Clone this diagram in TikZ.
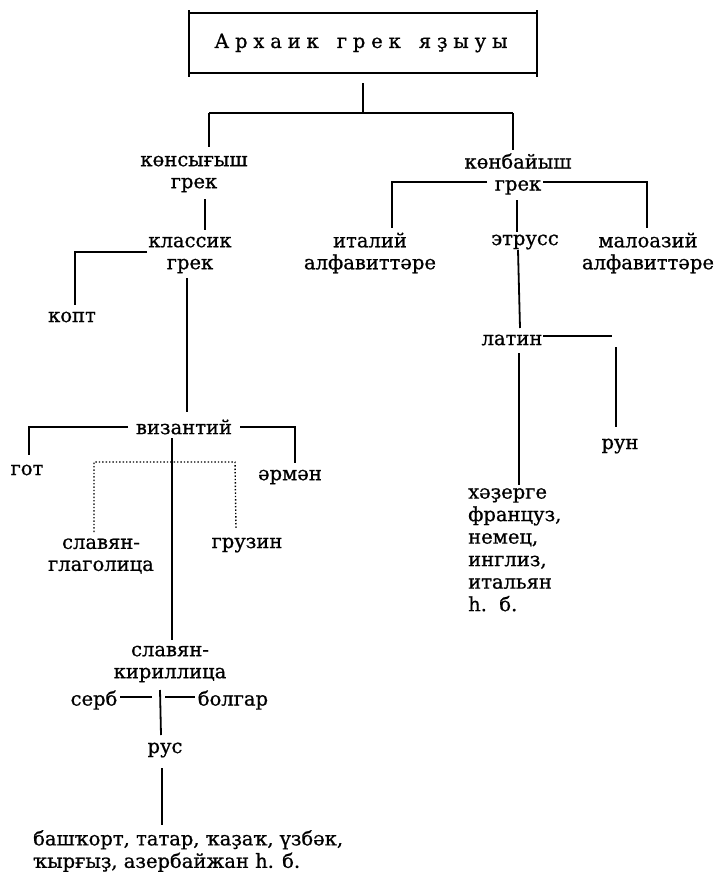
\documentclass[tikz,border=0pt]{standalone}
\usepackage{fontspec}
\setmainfont{DejaVu Serif}[FakeBold=0.8]
\begin{document}
\begin{tikzpicture}[x=1pt,y=-1pt,
  lbl/.style={inner sep=0pt, align=center, font=\fontsize{19.5}{22}\selectfont},
  lbll/.style={inner sep=0pt, align=left, font=\fontsize{19.5}{22.5}\selectfont},
  ln/.style={line width=1.8pt},
  dln/.style={line width=1.4pt, dotted}]
\useasboundingbox (0,0) rectangle (718,873);
% title box
\node[lbl, font=\fontsize{19.5}{22}\selectfont\addfontfeature{LetterSpace=30}] (title) at (361,43) {Архаик\hspace{6pt} грек\hspace{6pt} яҙыуы};
\draw[ln] (189,10) -- (189,77);
\draw[ln] (537,10) -- (537,77);
\draw[ln] (189,13) -- (537,13);
\draw[ln] (189,73) -- (537,73);
% nodes
\node[lbl] (east) at (194,174) {көнсығыш\\грек};
\node[lbl] (west) at (518,174) {көнбайыш\\грек};
\node[lbl] (classic) at (190,255) {классик\\грек};
\node[lbl] (kopt) at (72,317) {копт};
\node[lbl] (ital) at (370,253) {италий\\алфавиттәре};
\node[lbl] (etr) at (525,242) {этрусс};
\node[lbl] (maloaz) at (648,253) {малоазий\\алфавиттәре};
\node[lbl] (latin) at (512,340) {латин};
\node[lbl] (run) at (620,446) {рун};
\node[lbll, anchor=north west] (modern) at (468,488) {хәҙерге\\француз,\\немец,\\инглиз,\\итальян\\һ.\ \ б.};
\node[lbl] (byz) at (184,427) {византий};
\node[lbl] (got) at (27,470) {гот};
\node[lbl] (armen) at (290,477) {әрмән};
\node[lbl] (glag) at (101,556) {славян-\\глаголица};
\node[lbl] (georg) at (247,545) {грузин};
\node[lbl] (cyr) at (170,664) {славян-\\кириллица};
\node[lbl] (serb) at (94,700) {серб};
\node[lbl] (bolgar) at (233,700) {болгар};
\node[lbl] (rus) at (165,750) {рус};
\node[lbll, anchor=north west] (turk) at (33,830) {башҡорт, татар, ҡаҙаҡ, үзбәк,\\ҡырғыҙ, азербайжан һ. б.};
% coordinates
\coordinate (tb) at (363,83);
\coordinate (j1) at (363,113);
\coordinate (j1l) at (209,113);
\coordinate (j1r) at (513,113);
\coordinate (eastn) at (209,147);
\coordinate (westn) at (513,150);
% connectors
\draw[ln] (tb) -- (j1);
\draw[ln] (j1l) -- (j1r);
\draw[ln] (j1l) -- (eastn);
\draw[ln] (j1r) -- (westn);
\draw[ln] (205,199) -- (205,230);
\draw[ln] (147,252) -- (75,252) -- (75,305);
\draw[ln] (187,278) -- (187,412);
% west greek
\draw[ln] (487,182) -- (392,182) -- (392,228);
\draw[ln] (543,182) -- (647,182) -- (647,228);
\draw[ln] (517,200) -- (517,232);
\draw[ln] (518,250) -- (520,328);
% latin
\draw[ln] (543,336) -- (612,336);
\draw[ln] (616,347) -- (616,427);
\draw[ln] (519,353) -- (519,485);
% byzantine
\draw[ln] (128,427) -- (29,427) -- (29,455);
\draw[ln] (240,427) -- (295,427) -- (295,463);
\draw[ln] (172,438) -- (172,640);
\draw[dln] (94,532) -- (94,462) -- (235,462) -- (236,528);
% cyrillic
\draw[ln] (120,697) -- (152,697);
\draw[ln] (165,697) -- (195,697);
\draw[ln] (160,690) -- (161,735);
\draw[ln] (162,768) -- (162,825);
\end{tikzpicture}
\end{document}
